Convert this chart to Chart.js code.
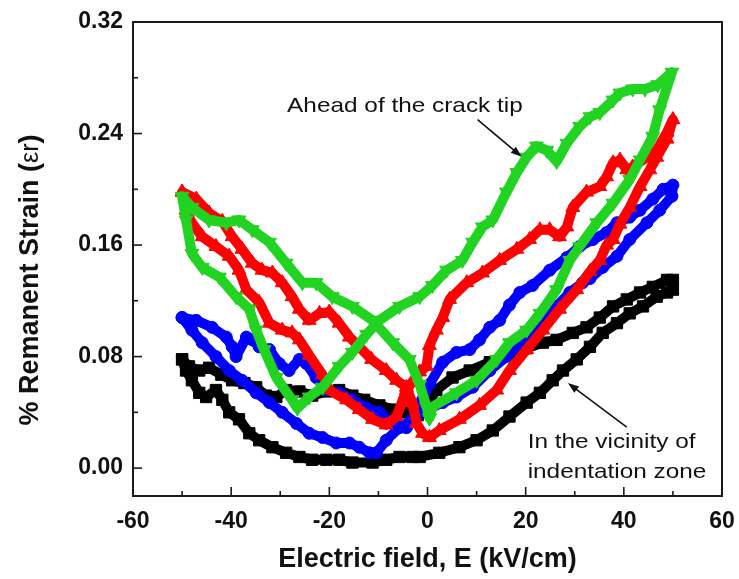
<!DOCTYPE html>
<html>
<head>
<meta charset="utf-8">
<script src="https://cdn.jsdelivr.net/npm/chart.js@4/dist/chart.umd.min.js"></script>
<style>
  html, body { margin: 0; padding: 0; background: #fff; }
  canvas { display: block; }
</style>
</head>
<body>
<canvas id="chart" width="739" height="579"></canvas>
<script>
// axis ticks
const xTicks = [-60, -40, -20, 0, 20, 40, 60];
const yTicks = [0, 0.08, 0.16, 0.24, 0.32];
const xMinor = [-50, -30, -10, 10, 30, 50];
const yMinor = [0.04, 0.12, 0.20, 0.28];

// black loop (squares) - vicinity of indentation zone
const blackE = [-50.0,-48.6,-46.5,-44.5,-42.0,-39.8,-37.3,-34.9,-32.9,-30.8,-28.8,-26.1,-23.5,-20.6,-18.0,-15.3,-12.9,-9.8,-7.1,-4.7,-2.0,-0.2,1.8,5.1,8.6,12.7,16.7,20.2,23.5,26.3,29.6,32.4,35.1,37.8,40.6,43.3,45.9,48.8,50.0,50.0,48.8,46.7,43.9,41.2,38.6,35.7,33.1,30.4,27.6,25.5,22.9,20.2,16.7,13.3,10.0,6.5,2.4,-1.6,-3.1,-5.7,-8.4,-11.2,-15.3,-18.0,-20.6,-23.5,-26.1,-28.8,-31.6,-34.3,-36.3,-38.4,-40.4,-41.8,-43.1,-45.1,-46.5,-48.0,-49.2,-50.0];
const blackStrain = [0.078,0.073,0.070,0.072,0.067,0.063,0.061,0.058,0.052,0.051,0.056,0.055,0.052,0.055,0.056,0.052,0.049,0.045,0.042,0.040,0.038,0.045,0.056,0.065,0.070,0.076,0.081,0.086,0.090,0.092,0.097,0.101,0.108,0.116,0.121,0.126,0.130,0.135,0.135,0.128,0.126,0.123,0.116,0.111,0.104,0.097,0.087,0.078,0.070,0.063,0.054,0.047,0.037,0.027,0.020,0.015,0.011,0.008,0.008,0.008,0.006,0.004,0.004,0.006,0.006,0.006,0.008,0.011,0.015,0.020,0.025,0.035,0.040,0.049,0.056,0.051,0.054,0.063,0.070,0.078];

// blue loop (circles)
const blueE = [-50.0,-47.1,-43.9,-41.0,-39.8,-39.0,-36.9,-35.7,-34.3,-32.2,-30.2,-28.2,-26.1,-24.7,-22.7,-20.6,-18.0,-15.3,-12.4,-9.8,-7.1,-4.3,-2.2,-1.0,0.4,3.1,5.9,8.6,10.6,12.7,14.7,16.7,18.8,21.4,24.9,28.4,31.0,33.7,36.5,38.6,41.2,43.3,45.9,48.0,50.0,49.8,47.3,44.7,41.2,38.6,35.7,33.1,31.6,29.0,26.3,22.9,19.4,16.1,12.7,9.2,5.9,3.1,-0.2,-3.1,-5.7,-8.4,-10.4,-11.8,-13.9,-15.9,-18.6,-21.4,-24.1,-26.7,-29.6,-32.2,-34.9,-37.8,-40.4,-43.1,-45.9,-48.0,-50.0];
const blueStrain = [0.108,0.106,0.101,0.094,0.087,0.080,0.094,0.092,0.087,0.085,0.075,0.070,0.078,0.075,0.065,0.056,0.054,0.049,0.043,0.040,0.032,0.029,0.038,0.049,0.060,0.076,0.083,0.085,0.092,0.101,0.106,0.117,0.126,0.131,0.142,0.151,0.159,0.164,0.169,0.176,0.180,0.185,0.193,0.200,0.203,0.195,0.185,0.176,0.164,0.152,0.144,0.136,0.133,0.126,0.116,0.104,0.092,0.080,0.070,0.058,0.051,0.047,0.042,0.035,0.029,0.020,0.011,0.011,0.015,0.018,0.018,0.022,0.025,0.032,0.040,0.047,0.054,0.063,0.070,0.080,0.090,0.099,0.108];

// red loop (up triangles)
const redE = [-50.0,-47.1,-44.5,-41.8,-39.8,-37.8,-35.7,-33.7,-31.6,-29.6,-27.6,-26.1,-24.1,-22.0,-20.0,-18.0,-15.9,-13.9,-11.4,-8.4,-6.3,-4.3,-3.1,-2.2,-1.0,0.4,2.4,6.5,10.6,14.1,16.7,20.2,23.5,26.9,30.4,33.1,35.1,36.5,37.8,39.2,41.2,43.3,45.3,46.7,48.8,50.0,48.8,46.7,44.7,41.8,40.6,39.2,37.8,36.5,35.1,32.4,29.6,28.4,26.9,24.9,22.9,20.8,18.2,14.7,11.2,8.0,4.5,3.1,1.8,0.4,-0.2,-1.6,-4.3,-6.3,-8.4,-11.2,-13.9,-16.5,-20.0,-21.4,-24.1,-26.1,-27.6,-29.6,-32.2,-34.3,-36.9,-38.4,-40.4,-43.1,-45.9,-48.0,-49.2,-50.0];
const redStrain = [0.198,0.193,0.183,0.177,0.166,0.157,0.147,0.142,0.140,0.133,0.123,0.114,0.106,0.111,0.112,0.104,0.094,0.087,0.078,0.070,0.063,0.058,0.047,0.032,0.025,0.022,0.027,0.035,0.045,0.056,0.070,0.085,0.099,0.114,0.128,0.141,0.149,0.160,0.164,0.175,0.187,0.202,0.214,0.223,0.236,0.250,0.241,0.228,0.223,0.216,0.214,0.221,0.219,0.209,0.202,0.198,0.187,0.173,0.166,0.171,0.171,0.164,0.157,0.149,0.140,0.133,0.121,0.108,0.099,0.088,0.073,0.069,0.056,0.037,0.031,0.035,0.042,0.049,0.056,0.067,0.081,0.092,0.097,0.099,0.104,0.119,0.128,0.142,0.152,0.159,0.166,0.176,0.185,0.198];

// green loop (down triangles) - ahead of the crack tip
const greenE = [0.4,1.0,5.9,10.0,14.1,16.7,20.2,22.9,26.3,29.0,31.0,34.5,37.8,41.2,43.3,45.9,47.3,49.8,46.9,44.3,41.8,39.2,37.8,35.1,33.1,31.0,28.4,26.3,24.3,22.2,20.2,18.2,16.1,13.3,11.2,9.2,7.1,3.9,1.0,-1.6,-5.7,-9.8,-12.4,-15.3,-18.0,-21.4,-24.1,-26.5,-27.6,-30.8,-33.3,-34.9,-36.3,-39.0,-42.4,-45.9,-48.0,-49.2,-50.0,-48.0,-44.5,-41.0,-38.4,-35.7,-32.2,-28.8,-25.5,-22.7,-19.4,-15.3,-11.2,-7.1,-3.7,-1.6,-0.2,0.4];
const greenStrain = [0.036,0.044,0.054,0.063,0.078,0.090,0.099,0.111,0.128,0.149,0.159,0.176,0.190,0.207,0.221,0.238,0.257,0.284,0.275,0.272,0.272,0.269,0.264,0.255,0.252,0.245,0.233,0.220,0.228,0.231,0.223,0.212,0.198,0.178,0.173,0.162,0.149,0.142,0.131,0.123,0.116,0.106,0.096,0.083,0.073,0.058,0.051,0.043,0.049,0.065,0.085,0.099,0.114,0.123,0.137,0.144,0.154,0.178,0.195,0.187,0.178,0.176,0.178,0.171,0.162,0.147,0.133,0.133,0.123,0.116,0.106,0.090,0.078,0.060,0.044,0.036];

const FONT = '"Liberation Sans", Arial, sans-serif';

function pts(xs, ys){ return xs.map((x,i)=>({x, y: ys[i]})); }

function loop(data, color, style, order, extra){
  return Object.assign({
    data, order,
    showLine: true,
    borderColor: color,
    backgroundColor: color,
    borderWidth: 10,
    borderJoinStyle: 'round',
    borderCapStyle: 'round',
    pointStyle: style,
    pointRadius: 8,
    pointBorderWidth: 1,
    pointBorderColor: color,
    pointBackgroundColor: color,
    tension: 0
  }, extra || {});
}

// annotations in data units
const notes = [
  { lines: ['Ahead of the crack tip'], x: -28.6, y: 0.2557, from: [10.2, 0.2499], to: [19.2, 0.2233] },
  { lines: ['In the vicinity of', 'indentation zone'], x: 20.4, y: 0.0144, from: [40.6, 0.0294], to: [28.6, 0.0610] }
];

const framePlugin = {
  id: 'frame',
  afterDraw(chart){
    const { ctx, chartArea: a, scales: { x, y } } = chart;
    ctx.save();
    ctx.strokeStyle = '#1a1a1a';
    ctx.lineWidth = 2;
    ctx.strokeRect(a.left, a.top, a.right - a.left, a.bottom - a.top);

    ctx.lineWidth = 1.6;
    const seg = (x0,y0,x1,y1)=>{ ctx.beginPath(); ctx.moveTo(x0,y0); ctx.lineTo(x1,y1); ctx.stroke(); };
    xTicks.forEach(v=>{ const p = x.getPixelForValue(v); seg(p, a.bottom, p, a.bottom - 9); });
    xMinor.forEach(v=>{ const p = x.getPixelForValue(v); seg(p, a.bottom, p, a.bottom - 5); });
    yTicks.forEach(v=>{ const p = y.getPixelForValue(v); seg(a.left, p, a.left + 9, p); });
    yMinor.forEach(v=>{ const p = y.getPixelForValue(v); seg(a.left, p, a.left + 5, p); });

    // y axis title with mixed weights
    const cy = 280, cx = 31;
    const parts = [
      ['% Remanent Strain (', 'bold 27px ' + FONT],
      ['\u03b5r', '25px ' + FONT],
      [')', 'bold 27px ' + FONT]
    ];
    let total = 0;
    parts.forEach(p=>{ ctx.font = p[1]; total += ctx.measureText(p[0]).width; });
    ctx.translate(cx, cy);
    ctx.rotate(-Math.PI/2);
    ctx.fillStyle = '#111';
    ctx.textBaseline = 'middle';
    ctx.textAlign = 'left';
    let off = -total/2;
    parts.forEach(p=>{ ctx.font = p[1]; ctx.fillText(p[0], off, 0); off += ctx.measureText(p[0]).width; });
    ctx.setTransform(1,0,0,1,0,0);

    // annotations
    ctx.fillStyle = '#111';
    ctx.strokeStyle = '#111';
    ctx.font = '21px ' + FONT;
    ctx.textAlign = 'left';
    ctx.textBaseline = 'alphabetic';
    notes.forEach(n=>{
      const tx = x.getPixelForValue(n.x);
      n.lines.forEach((t,i)=>{
        ctx.save();
        ctx.translate(tx, y.getPixelForValue(n.y) + i*30);
        ctx.scale(1.16, 1);
        ctx.fillText(t, 0, 0);
        ctx.restore();
      });
      const x0 = x.getPixelForValue(n.from[0]), y0 = y.getPixelForValue(n.from[1]);
      const x1 = x.getPixelForValue(n.to[0]), y1 = y.getPixelForValue(n.to[1]);
      const ang = Math.atan2(y1 - y0, x1 - x0);
      ctx.lineWidth = 1.6;
      seg(x0, y0, x1 - 8*Math.cos(ang), y1 - 8*Math.sin(ang));
      ctx.beginPath();
      ctx.moveTo(x1, y1);
      ctx.lineTo(x1 - 11*Math.cos(ang) + 4*Math.sin(ang), y1 - 11*Math.sin(ang) - 4*Math.cos(ang));
      ctx.lineTo(x1 - 11*Math.cos(ang) - 4*Math.sin(ang), y1 - 11*Math.sin(ang) + 4*Math.cos(ang));
      ctx.closePath();
      ctx.fill();
    });
    ctx.restore();
  }
};

new Chart(document.getElementById('chart'), {
  type: 'scatter',
  data: {
    datasets: [
      loop(pts(blackE, blackStrain), '#000000', 'rect', 4, { pointRadius: 8 }),
      loop(pts(blueE, blueStrain), '#0000ff', 'circle', 3, { pointRadius: 6 }),
      loop(pts(redE, redStrain), '#ff0000', 'triangle', 2),
      loop(pts(greenE, greenStrain), '#22d322', 'triangle', 1, { pointRotation: 180 })
    ]
  },
  options: {
    responsive: false,
    animation: false,
    layout: { padding: { top: 22, right: 17, left: 0, bottom: 0 } },
    plugins: { legend: { display: false }, tooltip: { enabled: false } },
    scales: {
      x: {
        type: 'linear', min: -60, max: 60,
        afterBuildTicks: s => { s.ticks = xTicks.map(v=>({ value: v })); },
        afterFit: s => { s.height = 83; s.paddingLeft = 0; s.paddingRight = 0; },
        grid: { display: false, drawTicks: false },
        border: { display: false },
        ticks: { color: '#111', font: { family: FONT, size: 23, weight: 'bold' }, padding: 12, maxRotation: 0 },
        title: { display: true, text: 'Electric field, E (kV/cm)', color: '#111',
                 font: { family: FONT, size: 27, weight: 'bold' }, padding: { top: 0, bottom: 3 } }
      },
      y: {
        type: 'linear', min: -0.02, max: 0.32,
        afterBuildTicks: s => { s.ticks = yTicks.map(v=>({ value: v })); },
        afterFit: s => { s.width = 133; s.paddingTop = 0; s.paddingBottom = 0; },
        grid: { display: false, drawTicks: false },
        border: { display: false },
        ticks: { color: '#111', font: { family: FONT, size: 23, weight: 'bold' }, padding: 10,
                 callback: v => v.toFixed(2) }
      }
    }
  },
  plugins: [framePlugin]
});
</script>
</body>
</html>
